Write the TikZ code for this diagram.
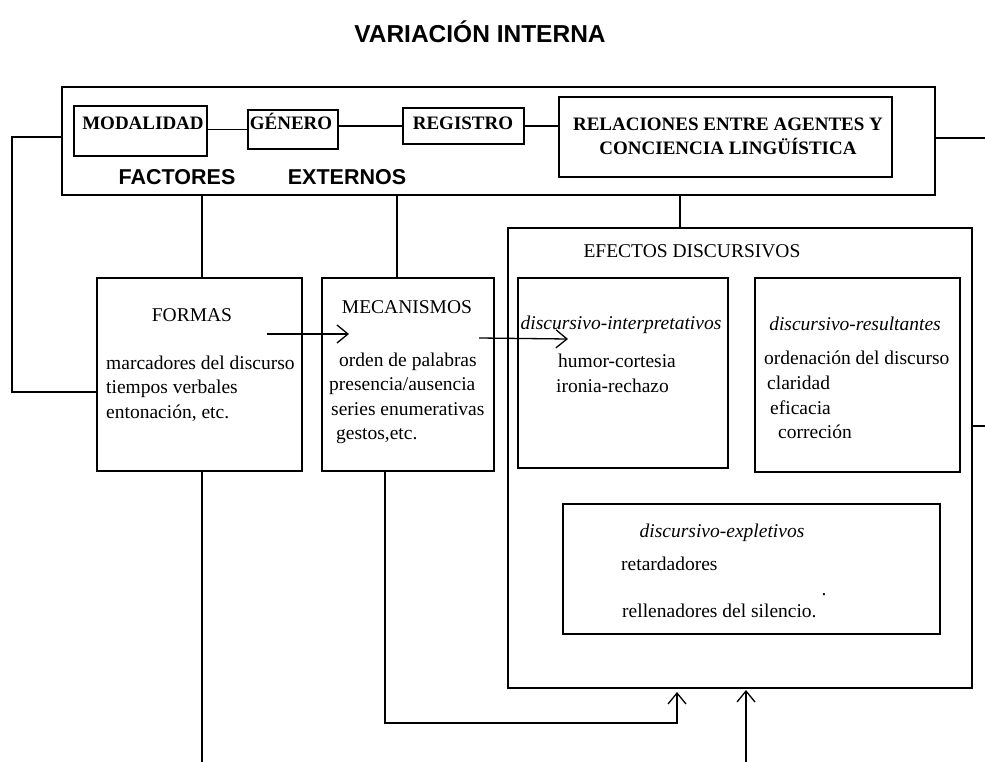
\documentclass[tikz,border=0pt]{standalone}
\usepackage{fontspec}
\setmainfont{Liberation Serif}
\newfontfamily\sansbold{Liberation Sans}
\usetikzlibrary{arrows.meta,calc}
\begin{document}
\begin{tikzpicture}[x=1pt,y=-1pt,
  bx/.style={draw,line width=1.4pt,inner sep=0pt,outer sep=0pt},
  txt/.style={inner sep=0pt,font=\fontsize{19.5}{23}\selectfont},
  lbl/.style={txt,anchor=mid west},
  itl/.style={inner sep=0pt,font=\fontsize{19.5}{23}\selectfont\itshape},
  hdr/.style={inner sep=0pt,font=\fontsize{19}{23}\selectfont\bfseries},
  big/.style={inner sep=0pt,font=\sansbold\fontsize{21.5}{25}\selectfont\bfseries},
  link/.style={line width=1.3pt},
  arr/.style={link,-{Straight Barb[length=11pt,width=18pt]}}]
\useasboundingbox (0,0) rectangle (985,762);

% title
\node[inner sep=0pt,font=\sansbold\fontsize{24.5}{28}\selectfont\bfseries] (title) at (480,32) {VARIACIÓN INTERNA};

% top boxes
\node[bx,minimum width=873pt,minimum height=108pt] (outer) at (498.5,141) {};
\node[bx,minimum width=133pt,minimum height=50pt] (mod) at (140.5,131) {};
\node[bx,minimum width=90pt,minimum height=39pt] (gen) at (293,129.5) {};
\node[bx,minimum width=121pt,minimum height=36pt] (reg) at (463.5,126) {};
\node[bx,minimum width=333pt,minimum height=80pt] (rel) at (725.5,137) {};

\node[hdr,anchor=mid] (tmod) at (143,127) {MODALIDAD};
\node[hdr,anchor=mid] (tgen) at (291,127) {GÉNERO};
\node[hdr,anchor=mid] (treg) at (463,127) {REGISTRO};
\node[hdr,anchor=mid] (trel1) at (728,128) {RELACIONES ENTRE AGENTES Y};
\node[hdr,anchor=mid] (trel2) at (728,152) {CONCIENCIA LINGÜÍSTICA};
\node[big] (fact) at (177,177) {FACTORES};
\node[big] (ext) at (347,177) {EXTERNOS};

% middle boxes
\node[bx,minimum width=205pt,minimum height=193pt] (formas) at (199.5,374.5) {};
\node[bx,minimum width=172pt,minimum height=193pt] (meca) at (408,374.5) {};
\node[bx,minimum width=464pt,minimum height=460pt] (efectos) at (740,458) {};
\node[bx,minimum width=210pt,minimum height=190pt] (interp) at (623,373) {};
\node[bx,minimum width=205pt,minimum height=194pt] (result) at (857.5,375) {};
\node[bx,minimum width=377pt,minimum height=130pt] (expl) at (751.5,569) {};

% texts
\node[txt,anchor=mid] (tformas) at (192,319) {FORMAS};
\node[lbl] (f1) at (106,367) {marcadores del discurso};
\node[lbl] (f2) at (106,391) {tiempos verbales};
\node[lbl] (f3) at (106,416) {entonación, etc.};

\node[txt,anchor=mid] (tmeca) at (407,311) {MECANISMOS};
\node[lbl] (m1) at (339,364) {orden de palabras};
\node[lbl] (m2) at (329,388) {presencia/ausencia};
\node[lbl] (m3) at (331,413) {series enumerativas};
\node[lbl] (m4) at (336,437) {gestos,etc.};

\node[txt,anchor=mid] (tefectos) at (692,255) {EFECTOS DISCURSIVOS};

\node[itl,anchor=mid] (tinterp) at (621,327) {discursivo-interpretativos};
\node[lbl] (i1) at (558,365) {humor-cortesia};
\node[lbl] (i2) at (556,390) {ironia-rechazo};

\node[itl,anchor=mid] (tresult) at (855,328) {discursivo-resultantes};
\node[lbl] (r1) at (764,362) {ordenación del discurso};
\node[lbl] (r2) at (767,387) {claridad};
\node[lbl] (r3) at (770,412) {eficacia};
\node[lbl] (r4) at (778,436) {correción};

\node[itl,anchor=mid] (texpl) at (722,535) {discursivo-expletivos};
\node[lbl] (e1) at (621,568) {retardadores};
\node[lbl] (e2) at (622,615) {rellenadores del silencio.};
\node[txt,anchor=base] (edot) at (824,595) {.};

% connectors top row
\draw[link] (mod.east |- gen.west) -- (gen.west);
\draw[link] (gen.east |- reg.west) -- (reg.west);
\draw[link] (reg.east) -- (rel.west |- reg.east);

% left loop
\coordinate (L1) at (12,137);
\coordinate (L2) at (12,392);
\draw[link] (outer.west |- L1) -- (L1) -- (L2) -- (formas.west |- L2);

% right stubs
\coordinate (R1) at (985,138);
\draw[link] (outer.east |- R1) -- (R1);
\coordinate (R2) at (985,426);
\draw[link] (efectos.east |- R2) -- (R2);

% verticals from outer box
\coordinate (V1) at (202,0);
\draw[link] (outer.south -| V1) -- (formas.north -| V1);
\coordinate (V2) at (397,0);
\draw[link] (outer.south -| V2) -- (meca.north -| V2);
\coordinate (V3) at (680,0);
\draw[link] (outer.south -| V3) -- (efectos.north -| V3);

% bottom
\coordinate (B1) at (202,762);
\draw[link] (formas.south -| B1) -- (B1);
\coordinate (B2) at (385,723);
\coordinate (B3) at (677,723);
\draw[arr] (meca.south -| B2) -- (B2) -- (B3) -- ($(efectos.south -| B3)+(0,4)$);
\coordinate (B4) at (746,762);
\draw[arr] (B4) -- ($(efectos.south -| B4)+(0,2)$);

% internal arrows
\coordinate (A1) at (267,334);
\coordinate (A2) at (349,334);
\draw[arr] (A1) -- (A2);
\coordinate (A3) at (479,338);
\coordinate (A4) at (568,339);
\draw[arr] (A3) -- (A4);
\end{tikzpicture}
\end{document}
